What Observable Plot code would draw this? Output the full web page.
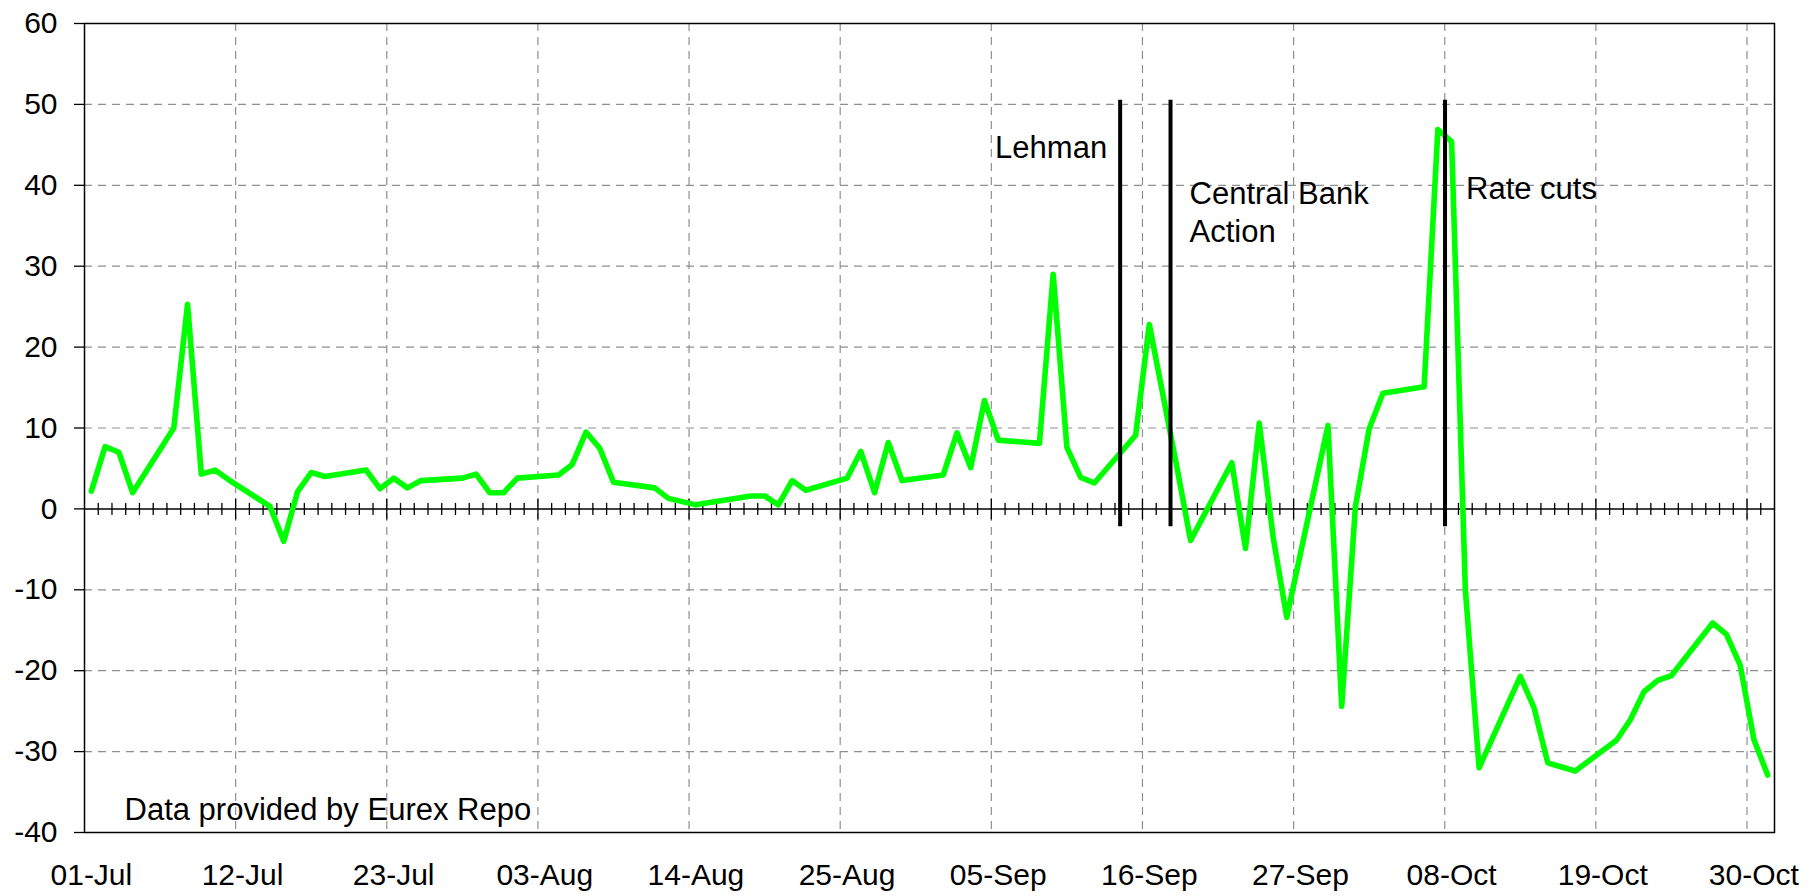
<!DOCTYPE html>
<html>
<head>
<meta charset="utf-8">
<script src="https://cdn.jsdelivr.net/npm/d3@7"></script>
<script src="https://cdn.jsdelivr.net/npm/@observablehq/plot@0.6"></script>
<style>
  html, body { margin: 0; padding: 0; background: #ffffff; }
  #chart svg { display: block; }
</style>
</head>
<body>
<div id="chart"></div>
<script>
// ---- Data (2008, business days) ----
const julDays   = [1, 2, 3, 4, 7, 8, 9, 10, 11, 14, 15, 16, 17, 18, 21, 22, 23, 24, 25, 28, 29, 30, 31];
const julValues = [2.2, 7.7, 7.0, 2.0, 10.0, 25.3, 4.3, 4.8, 3.6, 0.3, -4.0, 2.1, 4.5, 4.0, 4.8, 2.5, 3.8, 2.6, 3.5, 3.8, 4.3, 2.0, 2.0];
const augDays   = [1, 4, 5, 6, 7, 8, 11, 12, 13, 14, 15, 18, 19, 20, 21, 22, 25, 26, 27, 28, 29];
const augValues = [3.8, 4.2, 5.5, 9.5, 7.5, 3.3, 2.6, 1.3, 0.9, 0.5, 0.8, 1.6, 1.6, 0.5, 3.5, 2.3, 3.8, 7.1, 2.0, 8.2, 3.5];
const sepDays   = [1, 2, 3, 4, 5, 8, 9, 10, 11, 12, 15, 16, 17, 18, 19, 22, 23, 24, 25, 26, 29, 30];
const sepValues = [4.2, 9.4, 5.1, 13.4, 8.5, 8.1, 29.0, 7.6, 3.9, 3.2, 9.1, 22.8, 14.0, 5.2, -3.9, 5.7, -4.9, 10.6, -3.4, -13.4, 10.3, -24.4];
const octDays   = [1, 2, 3, 6, 7, 8, 9, 10, 13, 14, 15, 16, 17, 20, 21, 22, 23, 24, 27, 28, 29, 30, 31];
const octValues = [0.3, 9.9, 14.3, 15.1, 46.9, 45.4, -10.0, -32.0, -20.7, -24.6, -31.4, -31.9, -32.4, -28.6, -26.1, -22.6, -21.2, -20.6, -14.1, -15.5, -19.3, -28.5, -32.9];

const xTickLabels = ["2008-07-01", "2008-07-12", "2008-07-23", "2008-08-03", "2008-08-14", "2008-08-25",
                     "2008-09-05", "2008-09-16", "2008-09-27", "2008-10-08", "2008-10-19", "2008-10-30"];
const yTicks = [60, 50, 40, 30, 20, 10, 0, -10, -20, -30, -40];

const eventLabels = ["Lehman", "Central Bank\nAction", "Rate cuts"];
const eventDates  = ["2008-09-14T09:00:00Z", "2008-09-18T01:00:00Z", "2008-10-08T00:30:00Z"];
const sourceNote  = "Data provided by Eurex Repo";

// ---- Build tables ----
const pad = n => String(n).padStart(2, "0");
const months = [["07", julDays, julValues], ["08", augDays, augValues], ["09", sepDays, sepValues], ["10", octDays, octValues]];
const data = months.flatMap(([m, days, vals]) =>
  days.map((d, i) => ({ date: new Date(`2008-${m}-${pad(d)}T12:00:00Z`), value: vals[i] })));

const majorDates = xTickLabels.map(s => new Date(s + "T00:00:00Z"));
const labelDates = xTickLabels.map(s => new Date(s + "T12:00:00Z"));
const domainStart = new Date("2008-07-01T00:00:00Z");
const domainEnd = new Date("2008-11-01T00:00:00Z");
const majorSet = new Set(majorDates.map(d => +d));
const minorDates = d3.utcDay.range(d3.utcDay.offset(domainStart, 1), domainEnd).filter(d => !majorSet.has(+d));
const events = eventLabels.map((label, i) => ({ label, date: new Date(eventDates[i]) }));

const tickShape = { draw(context, l) { context.moveTo(0, 0); context.lineTo(0, -l); } };
const font = "'Liberation Sans', Arial, Helvetica, sans-serif";
const gridColor = "#8f8f8f";

const chart = Plot.plot({
  width: 1814,
  height: 896,
  marginLeft: 84,
  marginRight: 40,
  marginTop: 23,
  marginBottom: 64,
  style: { fontFamily: font, background: "#ffffff", color: "#000000" },
  x: { type: "utc", domain: [domainStart, domainEnd], label: null },
  y: { domain: [-40, 60], label: null },
  marks: [
    // dashed grid
    Plot.ruleX(majorDates.slice(1), { x: d => d, stroke: gridColor, strokeWidth: 1.2, strokeDasharray: "8,6" }),
    Plot.ruleY(yTicks.filter(v => v !== 60 && v !== -40 && v !== 0), { y: d => d, stroke: gridColor, strokeWidth: 1.2, strokeDasharray: "8,6" }),
    // frame & zero line
    Plot.frame({ stroke: "#000000", strokeWidth: 1.5 }),
    Plot.ruleY([0], { stroke: "#000000", strokeWidth: 1.5 }),
    // daily ticks on zero line
    Plot.vector(minorDates, { x: d => d, y: 0, length: 11, rotate: 0, anchor: "middle", shape: tickShape, stroke: "#000000", strokeWidth: 1.3 }),
    Plot.vector(majorDates.slice(1), { x: d => d, y: 0, length: 20, rotate: 0, anchor: "middle", shape: tickShape, stroke: "#000000", strokeWidth: 1.3 }),
    // axes
    Plot.axisX(labelDates, {
      anchor: "bottom", tickSize: 0, tickPadding: 31, fontSize: 30,
      tickFormat: d3.utcFormat("%d-%b"), label: null
    }),
    Plot.axisY(yTicks, {
      anchor: "left", tickSize: 10, tickPadding: 17, fontSize: 30,
      tickFormat: d => String(d), label: null, stroke: "#000000", strokeWidth: 1.3
    }),
    // series
    Plot.line(data, { x: "date", y: "value", stroke: "#00ff00", strokeWidth: 5.6, strokeLinejoin: "round", strokeLinecap: "round" }),
    // event lines
    Plot.ruleX(events, { x: "date", y1: -2.2, y2: 50.5, stroke: "#000000", strokeWidth: 4 }),
    // event labels
    Plot.text([events[0]], { x: "date", y: 44.6, text: "label", textAnchor: "end", dx: -13, lineAnchor: "middle", fontSize: 31, fill: "#000000" }),
    Plot.text([events[1]], { x: "date", y: 36.9, text: "label", textAnchor: "start", dx: 19, lineAnchor: "middle", lineHeight: 1.23, fontSize: 31, fill: "#000000" }),
    Plot.text([events[2]], { x: "date", y: 39.5, text: "label", textAnchor: "start", dx: 21, lineAnchor: "middle", fontSize: 31, fill: "#000000" }),
    // source note
    Plot.text([sourceNote], { text: d => d, frameAnchor: "bottom-left", dx: 40, dy: -22, textAnchor: "start", lineAnchor: "middle", fontSize: 31, fill: "#000000" })
  ]
});

document.getElementById("chart").appendChild(chart);
</script>
</body>
</html>
